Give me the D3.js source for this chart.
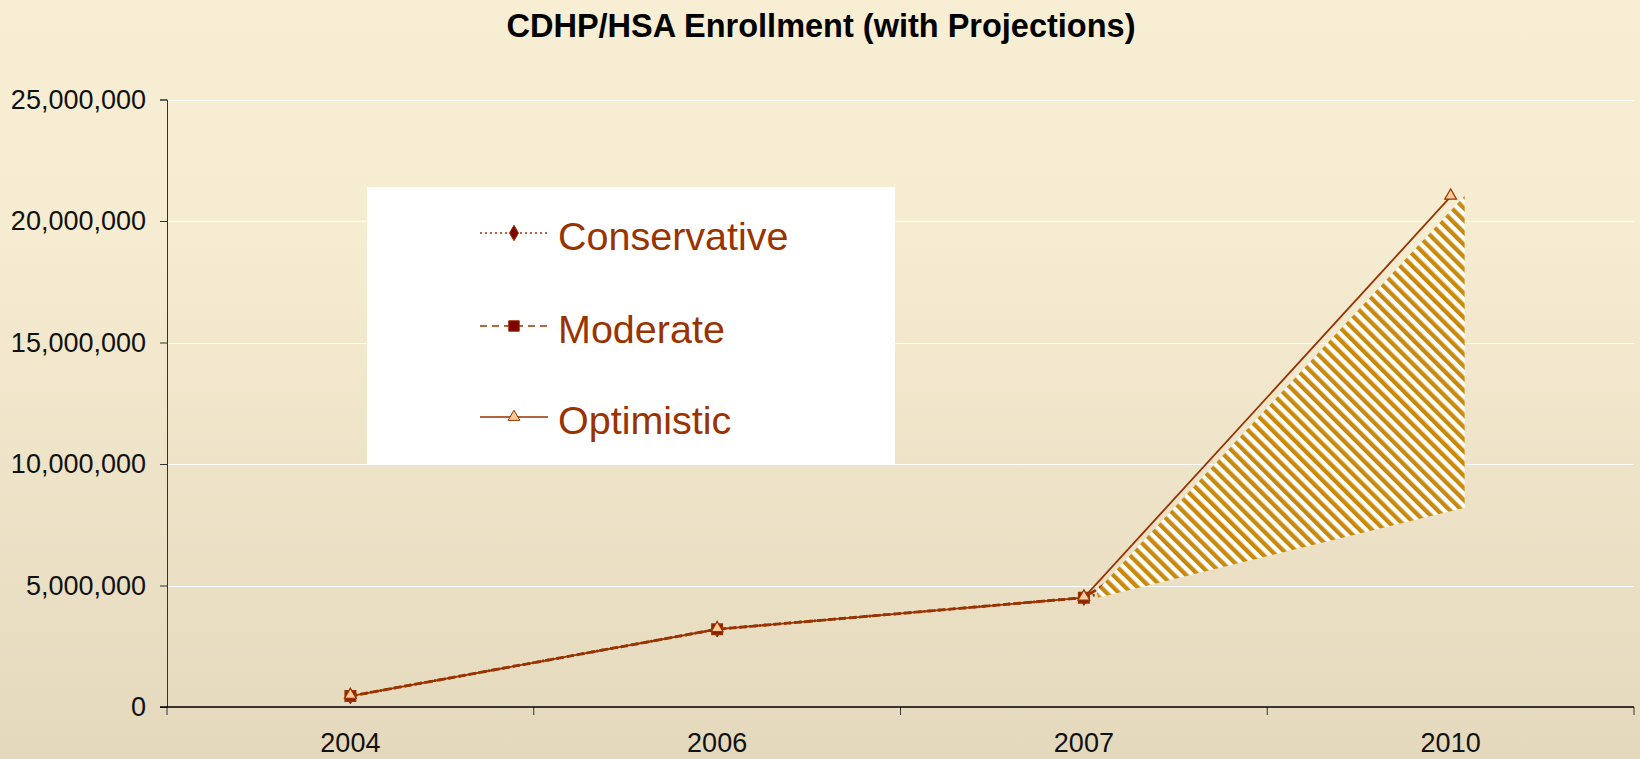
<!DOCTYPE html>
<html>
<head>
<meta charset="utf-8">
<script src="https://cdn.jsdelivr.net/npm/d3@7/dist/d3.min.js"></script>
<style>
  html, body { margin: 0; padding: 0; }
  body { width: 1640px; height: 759px; overflow: hidden; }
  text { font-family: "Liberation Sans", Arial, sans-serif; }
</style>
</head>
<body>
<svg id="chart" width="1640" height="759"></svg>
<script>
// data
var years = ["2004", "2006", "2007", "2010"];
var conservative = [450000, 3200000, 4500000, 8200000];
var moderate = [450000, 3200000, 4500000, 14000000];
var optimistic = [450000, 3200000, 4500000, 21000000];
var yTicks = [0, 5000000, 10000000, 15000000, 20000000, 25000000];
var seriesNames = ["Conservative", "Moderate", "Optimistic"];

var W = 1640, H = 759;
var plotLeft = 167, plotRight = 1634, plotTop = 99.5, plotBottom = 707;
var rust = "#993300";

var svg = d3.select("#chart");

var defs = svg.append("defs");
var bg = defs.append("linearGradient").attr("id", "bg").attr("x1", 0).attr("y1", 0).attr("x2", 0).attr("y2", 1);
bg.append("stop").attr("offset", "0").attr("stop-color", "#f8eed3");
bg.append("stop").attr("offset", "0.3").attr("stop-color", "#f6ecd1");
bg.append("stop").attr("offset", "1").attr("stop-color", "#e4d9bd");

// diagonal stripes running top-left to bottom-right
var hatch = defs.append("pattern").attr("id", "hatch")
  .attr("patternUnits", "userSpaceOnUse").attr("width", 8.6).attr("height", 8.6)
  .attr("patternTransform", "rotate(-45)");
hatch.append("rect").attr("width", 8.6).attr("height", 8.6).attr("fill", "#ffffff");
hatch.append("rect").attr("width", 4.3).attr("height", 8.6).attr("fill", "#c98a0c");

svg.append("rect").attr("width", W).attr("height", H).attr("fill", "url(#bg)");

// title
svg.append("text").attr("x", 821).attr("y", 37).attr("text-anchor", "middle")
  .attr("font-size", "32.5px").attr("font-weight", "bold").attr("fill", "#000")
  .text("CDHP/HSA Enrollment (with Projections)");

var x = d3.scaleBand().domain(years).range([plotLeft, plotRight]).paddingInner(0).paddingOuter(0);
var y = d3.scaleLinear().domain([0, 25000000]).range([plotBottom, plotTop]);
function cx(i) { return x(years[i]) + x.bandwidth() / 2; }

// gridlines
svg.append("g").selectAll("line").data(yTicks.filter(function(d){ return d > 0; })).join("line")
  .attr("x1", plotLeft).attr("x2", plotRight)
  .attr("y1", function(d){ return Math.round(y(d)) + 0.5; })
  .attr("y2", function(d){ return Math.round(y(d)) + 0.5; })
  .attr("stroke", "#ffffff").attr("stroke-width", 1.2);

// y axis
var yAxis = d3.axisLeft(y).tickValues(yTicks).tickSize(7).tickPadding(14)
  .tickFormat(d3.format(","));
var gy = svg.append("g").attr("transform", "translate(" + plotLeft + ",0)").call(yAxis);
gy.select(".domain").attr("stroke", "#333");
gy.selectAll(".tick line").attr("stroke", "#333");
gy.selectAll("text").attr("font-size", "27px").attr("fill", "#111")
  .attr("font-family", "Liberation Sans, Arial, sans-serif");

// x axis: labels centred in bands, ticks on band edges
var xAxis = d3.axisBottom(x).tickSize(0).tickPadding(26);
var gx = svg.append("g").attr("transform", "translate(0," + plotBottom + ")").call(xAxis);
gx.select(".domain").remove();
gx.selectAll("text").attr("font-size", "27px").attr("fill", "#111")
  .attr("font-family", "Liberation Sans, Arial, sans-serif");
var edges = years.map(function(d){ return x(d); }).concat([plotRight]);
svg.append("g").selectAll("line").data(edges).join("line")
  .attr("x1", function(d){ return d; }).attr("x2", function(d){ return d; })
  .attr("y1", plotBottom).attr("y2", plotBottom + 8)
  .attr("stroke", "#333").attr("stroke-width", 1);
svg.append("line").attr("x1", plotLeft - 7).attr("x2", plotRight).attr("y1", plotBottom).attr("y2", plotBottom)
  .attr("stroke", "#000").attr("stroke-width", 1.5);

var line = d3.line().x(function(d, i){ return cx(i); }).y(function(d){ return y(d); });

// conservative + moderate (hidden by the hatch after 2007)
svg.append("path").datum(conservative).attr("d", line).attr("fill", "none")
  .attr("stroke", rust).attr("stroke-width", 2.8).attr("stroke-dasharray", "2,3");
svg.append("path").datum(moderate).attr("d", line).attr("fill", "none")
  .attr("stroke", rust).attr("stroke-width", 2.8).attr("stroke-dasharray", "7,4");

var diamond = d3.symbol().type(d3.symbolDiamond).size(70);
var square = d3.symbol().type(d3.symbolSquare).size(110);
var triangle = d3.symbol().type(d3.symbolTriangle).size(60);

// markers for the actual years only; projections sit under the hatch
function actual(d, i) { return i < 3; }
svg.append("g").selectAll("path").data(conservative.filter(actual)).join("path")
  .attr("d", diamond)
  .attr("transform", function(d, i){ return "translate(" + cx(i) + "," + y(d) + ")"; })
  .attr("fill", "#800000").attr("stroke", rust);
svg.append("g").selectAll("path").data(moderate.filter(actual)).join("path")
  .attr("d", square)
  .attr("transform", function(d, i){ return "translate(" + cx(i) + "," + y(d) + ")"; })
  .attr("fill", "#8a1a00").attr("stroke", rust).attr("stroke-width", 1.5);

// hatched projection range, 2007 -> 2010
var projIdx = [2, 3];
var band = d3.area()
  .x(function(d, k){ return cx(d) + 14; })
  .y0(function(d){ return y(conservative[d]); })
  .y1(function(d, k){ return y(optimistic[d]) + (k === 0 ? -8 : -1); });
svg.append("path").datum(projIdx).attr("d", band).attr("fill", "url(#hatch)");

// optimistic on top
svg.append("path").datum(optimistic).attr("d", line).attr("fill", "none")
  .attr("stroke", rust).attr("stroke-width", 1.8);
svg.append("g").selectAll("path").data(optimistic).join("path")
  .attr("d", triangle)
  .attr("transform", function(d, i){ return "translate(" + cx(i) + "," + (y(d) - 1) + ")"; })
  .attr("fill", "#ffcc99").attr("stroke", rust).attr("stroke-width", 1.2);

// legend
svg.append("rect").attr("x", 367).attr("y", 187).attr("width", 528).attr("height", 277)
  .attr("fill", "#ffffff");
var legY = [233, 326, 417];
var dashes = ["2,3", "7,5", null];
var shapes = [diamond, square, triangle];
var fills = ["#800000", "#800000", "#ffcc99"];
var lg = svg.append("g").selectAll("g").data(seriesNames).join("g")
  .attr("transform", function(d, i){ return "translate(0," + legY[i] + ")"; });
lg.append("line").attr("x1", 480).attr("x2", 548).attr("y1", 0).attr("y2", 0)
  .attr("stroke", rust).attr("stroke-width", 1.5)
  .attr("stroke-dasharray", function(d, i){ return dashes[i]; });
lg.append("path").attr("d", function(d, i){ return shapes[i](); })
  .attr("transform", "translate(514,0)")
  .attr("fill", function(d, i){ return fills[i]; })
  .attr("stroke", rust).attr("stroke-width", 1);
lg.append("text").attr("x", 558).attr("y", 17).attr("font-size", "39.5px").attr("fill", rust)
  .text(function(d){ return d; });
</script>
</body>
</html>
